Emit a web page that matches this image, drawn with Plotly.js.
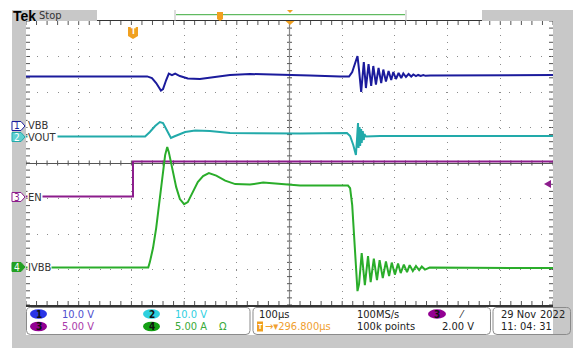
<!DOCTYPE html>
<html><head><meta charset="utf-8">
<script src="https://cdn.plot.ly/plotly-3.0.1.min.js"></script>
<style>html,body{margin:0;padding:0;background:#fff}#c{width:585px;height:359px}</style>
</head><body><div id="c"></div>
<script>
// ---- data: time in µs relative to trigger (100 µs/div) ----
const ch1Time = [-200,30,39,47,56,60,66,71,77,83,92,107,130,158,187,225,282,339,396,413,419,424,429,432,436,441,445,450,455,459,464,469,474,478,483,488,493,497,502,507,512,516,521,526,531,535,540,544,549,554,558,567,650,800];
const ch1Volts = [13.7,13.7,13.24,11.83,9.72,10.14,12.68,14.51,14.08,14.51,13.80,13.10,12.96,13.52,14.08,14.37,14.23,13.94,13.66,13.66,14.93,17.18,19.44,15.49,9.30,17.75,10.42,17.18,10.99,16.62,11.41,16.06,11.83,15.63,12.25,15.21,12.68,14.93,12.96,14.65,13.24,14.51,13.52,14.37,13.66,14.23,13.80,14.1,13.8,14.05,13.85,13.94,14.0,14.08];

const ch2Time = [-200,26,35,45,54,60,68,75,81,89,102,121,149,187,244,320,409,415,421,426,428,430,431,433,434,436,437,439,441,442,445,472,800];
const ch2Volts = [-0.14,-0.14,1.13,2.82,3.94,3.66,1.41,-0.56,-0.14,0.42,1.13,1.55,1.41,0.85,0.70,0.70,0.85,0,-2.54,-5.35,-1.13,3.66,-3.38,2.54,-2.82,1.97,-1.97,1.41,-1.13,0.56,-0.14,0,0];

const ch3Time = [-200,3,3,800];
const ch3Volts = [0.07,0.07,5.0,5.0];

const ch4Time = [-200,32,35,41,47,52,58,64,68,71,77,85,92,100,107,117,126,136,147,161,178,197,225,250,282,320,411,415,419,423,426,429,432,437,443,449,454,460,466,471,477,483,489,494,500,506,511,517,523,528,534,540,546,551,557,566,800];
const ch4Amps = [0.07,0.07,0.84,2.82,5.63,8.87,12.67,15.91,17.04,16.33,14.22,11.40,9.72,9.01,9.29,10.70,12.11,12.95,13.38,13.02,12.32,11.83,11.76,12.04,11.83,11.62,11.62,11.26,8.87,3.94,-0.99,-3.24,-2.25,2.11,-2.39,1.69,-1.97,1.34,-1.69,1.13,-1.41,0.92,-1.13,0.77,-0.92,0.63,-0.70,0.49,-0.56,0.42,-0.42,0.28,-0.28,0.21,-0.21,0.07,0];

const channelNames = ['VBB','VOUT','EN','IVBB'];
const scaleLabels = ['10.0 V','10.0 V','5.00 V','5.00 A'];
const scales = [10,10,5,5];          // units per division
const positions = [1.07,0.76,-0.96,-2.96]; // ground marker, divisions
const colors = ['#1b1b9c','#22aaaa','#8c1c8c','#2aad2a'];

// ---- helpers (pixel -> paper) ----
const L=26,R=553,T=21,B=305;
const X = px => (px-L)/(R-L);
const Y = py => (B-py)/(B-T);
const P = (px,py) => X(px).toFixed(5)+','+Y(py).toFixed(5);
const FONT = '"DejaVu Sans Condensed","Liberation Sans Narrow","Liberation Sans",sans-serif';

const toDiv = (arr,i) => arr.map(v => v/scales[i] + positions[i]);
const series = [[ch1Time,ch1Volts],[ch2Time,ch2Volts],[ch3Time,ch3Volts],[ch4Time,ch4Amps]];
const traces = series.map((s,i)=>({
  x:s[0], y:toDiv(s[1],i), type:'scatter', mode:'lines',
  line:{color:colors[i], width:2}, hoverinfo:'skip'
}));

const shapes = [];
const ann = [];
function rect(x0,y0,x1,y1,fill,line){
  shapes.push({type:'rect',xref:'paper',yref:'paper',x0:X(x0),x1:X(x1),y0:Y(y0),y1:Y(y1),
    fillcolor:fill,line:{width:line?1:0,color:line||fill},layer:'above'});
}
function path(d,fill,line){
  shapes.push({type:'path',xref:'paper',yref:'paper',path:d,fillcolor:fill,
    line:{width:line?1:0,color:line||fill},layer:'above'});
}
function roundBox(x0,y0,x1,y1,r){
  const d='M'+P(x0+r,y0)+' L'+P(x1-r,y0)+' Q'+P(x1,y0)+' '+P(x1,y0+r)+
   ' L'+P(x1,y1-r)+' Q'+P(x1,y1)+' '+P(x1-r,y1)+' L'+P(x0+r,y1)+' Q'+P(x0,y1)+' '+P(x0,y1-r)+
   ' L'+P(x0,y0+r)+' Q'+P(x0,y0)+' '+P(x0+r,y0)+' Z';
  path(d,'rgba(0,0,0,0)','#8a8a8a');
}
function text(px,py,t,size,color,anchor,extra){
  ann.push(Object.assign({xref:'paper',yref:'paper',x:X(px),y:Y(py),text:t,showarrow:false,
    xanchor:anchor||'left',yanchor:'middle',font:{family:FONT,size:size,color:color}},extra||{}));
}
function ellipse(x0,y0,x1,y1,fill){
  shapes.push({type:'circle',xref:'paper',yref:'paper',x0:X(x0),x1:X(x1),y0:Y(y0),y1:Y(y1),
    fillcolor:fill,line:{width:0},layer:'above'});
}

// grey frame
const GR='#c8c8c8';
rect(12,10,26,348,GR);
rect(553,10,573,348,GR);
rect(12,335,573,348,GR);
rect(12,10,97,21,GR);
rect(482,10,573,21,GR);
// top record bar
shapes.push({type:'line',xref:'paper',yref:'paper',x0:X(175),x1:X(175),y0:Y(10),y1:Y(21),line:{color:'#bbbbbb',width:1},layer:'above'});
shapes.push({type:'line',xref:'paper',yref:'paper',x0:X(406),x1:X(406),y0:Y(10),y1:Y(21),line:{color:'#bbbbbb',width:1},layer:'above'});
shapes.push({type:'line',xref:'paper',yref:'paper',x0:X(176),x1:X(405),y0:Y(14.7),y1:Y(14.7),line:{color:'#3caa3c',width:1},layer:'above'});
path('M'+P(217,12)+' L'+P(223,12)+' L'+P(223,19)+' L'+P(220,21)+' L'+P(217,19)+' Z','#f0a020');
path('M'+P(287,10)+' L'+P(293,10)+' L'+P(290,13)+' Z','#f0a020');
// trigger position marker on top border
path('M'+P(285.5,21)+' L'+P(294.5,21)+' L'+P(290,25)+' Z','#f0a020');
// trigger time marker "T"
path('M'+P(128,27)+' L'+P(138,27)+' L'+P(138,36)+' L'+P(133,39)+' L'+P(128,36)+' Z','#f0a020');
text(133,32,'<b>T</b>',8,'#ffffff','center');
// trigger level arrow (right)
path('M'+P(544,184)+' L'+P(551,180)+' L'+P(551,188)+' Z','#8c1c8c');

text(11,15.5,'<b>Tek</b>',14,'#000000','left',{font:{family:'"Liberation Sans",sans-serif',size:14,color:'#000'}});
text(37,15.5,'Stop',11,'#333333');

// channel ground markers
const mk=[[126,'#1b1b9c','#ffffff','#1b1b9c'],[137,'#22aaaa','#5fd0d0','#ffffff'],[197,'#8c1c8c','#ffffff','#8c1c8c'],[267,'#22a022','#22a022','#ffffff']];
mk.forEach((m,i)=>{
  const yc=m[0];
  path('M'+P(12,yc-4.5)+' L'+P(21,yc-4.5)+' L'+P(25,yc)+' L'+P(21,yc+4.5)+' L'+P(12,yc+4.5)+' Z',m[2],m[1]);
  text(16.5,yc,String(i+1),10,m[3],'center');
  text(27,yc,channelNames[i],11,'#333333','left',{bgcolor:'#ffffff',borderpad:0});
});

// bottom panels
roundBox(26.5,307.5,250,334.5,4);
roundBox(253,307.5,490.5,334.5,4);
roundBox(493,307.5,570.5,334.5,4);
const elCol=['#2a35e6','#2ed0de','#920092','#14a014'];
const txtCol=['#4f4fcf','#2fcfdf','#aa3aaa','#3aaa3a'];
[[30,314],[143,314],[30,326.5],[143,326.5]].forEach((p,i)=>{
  ellipse(p[0],p[1]-4.8,p[0]+17,p[1]+4.8,elCol[i]);
  text(p[0]+8.5,p[1],'<b>'+(i+1)+'</b>',10,'#111111','center');
  text(p[0]+30,p[1],scaleLabels[i],11,txtCol[i]);
});
text(217,326.5,'Ω',11,'#3aaa3a');
text(257,314,'100µs',11,'#222222');
rect(257,321.5,263,331.5,'#f0a020');
text(260,326.5,'<b>T</b>',7,'#ffffff','center');
text(263,326.5,'→▾296.800µs',11,'#f0a030');
text(355,314,'100MS/s',11,'#222222');
text(355,326.5,'100k points',11,'#222222');
ellipse(428,309.3,446,318.7,'#920092');
text(437,314,'<b>3</b>',10,'#111111','center');
text(457,314,'⁄',11,'#222222');
text(440,326.5,'2.00 V',11,'#222222');
text(499,314,'29 Nov',11,'#222222');
text(567,314,'2022',11,'#222222','right');
text(499,326.5,'11: 04: 31',11,'#222222');

// graticule tick marks
const tc='#555555';
for(let t=-200;t<=800;t+=20){
  shapes.push({type:'line',xref:'x',yref:'paper',ysizemode:'pixel',yanchor:0,x0:t,x1:t,y0:0,y1:4,line:{color:tc,width:1},layer:'below'});
  shapes.push({type:'line',xref:'x',yref:'paper',ysizemode:'pixel',yanchor:1,x0:t,x1:t,y0:0,y1:-4,line:{color:tc,width:1},layer:'below'});
  shapes.push({type:'line',xref:'x',yref:'y',ysizemode:'pixel',yanchor:0,x0:t,x1:t,y0:-2.5,y1:2.5,line:{color:tc,width:1},layer:'below'});
}
for(let k=-20;k<=20;k++){
  const v=k/5;
  shapes.push({type:'line',xref:'paper',yref:'y',xsizemode:'pixel',xanchor:0,x0:0,x1:4,y0:v,y1:v,line:{color:tc,width:1},layer:'below'});
  shapes.push({type:'line',xref:'paper',yref:'y',xsizemode:'pixel',xanchor:1,x0:0,x1:-4,y0:v,y1:v,line:{color:tc,width:1},layer:'below'});
  shapes.push({type:'line',xref:'x',yref:'y',xsizemode:'pixel',xanchor:300,x0:-2.5,x1:2.5,y0:v,y1:v,line:{color:tc,width:1},layer:'below'});
}
shapes.push({type:'line',xref:'x',yref:'paper',x0:300,x1:300,y0:0,y1:1,line:{color:'#8a8a8a',width:1.2},layer:'below'});

const layout = {
  width:585, height:359, margin:{l:L,r:585-R,t:T,b:359-B,pad:0},
  paper_bgcolor:'#ffffff', plot_bgcolor:'#ffffff', showlegend:false,
  xaxis:{range:[-200,800],tick0:-200,dtick:100,showticklabels:false,ticks:'',
    showgrid:true,gridcolor:'#8c8c8c',gridwidth:1,griddash:'1px,6.1px',zeroline:false,
    showline:true,mirror:true,linecolor:'#333333',linewidth:1.5,fixedrange:true},
  yaxis:{range:[-4,4],tick0:0,dtick:1,showticklabels:false,ticks:'',
    showgrid:true,gridcolor:'#8c8c8c',gridwidth:1,griddash:'1px,9.5px',
    zeroline:true,zerolinecolor:'#555555',zerolinewidth:1,
    showline:true,mirror:true,linecolor:'#333333',linewidth:1.5,fixedrange:true},
  shapes:shapes, annotations:ann, font:{family:FONT}
};
Plotly.newPlot('c',traces,layout,{displayModeBar:false,staticPlot:true});
</script></body></html>
